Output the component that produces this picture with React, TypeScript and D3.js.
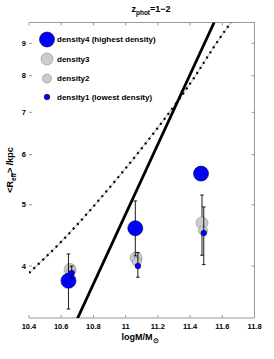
import React from "react";
import * as d3 from "d3";

// ---- data ----
const xTicks = [10.4, 10.6, 10.8, 11, 11.2, 11.4, 11.6, 11.8];
const yTicks = [4, 5, 6, 7, 8, 9];

const seriesNames = [
  "density4 (highest density)",
  "density3",
  "density2",
  "density1 (lowest density)",
];

const d4Mass = [10.645, 11.06, 11.468];
const d4R = [3.79, 4.59, 5.6];
const d4Lo = [3.42, 4.15, 5.6];
const d4Hi = [4.18, 5.07, 5.6];

const d3Mass = [10.655, 11.065, 11.474];
const d3R = [3.95, 4.12, 4.68];
const d3Lo = [3.95, 4.12, 4.16];
const d3Hi = [3.95, 4.12, 5.18];

const d2Mass = [10.66, 11.07, 11.48];
const d2R = [3.92, 4.06, 4.55];
const d2Lo = [3.92, 4.06, 4.55];
const d2Hi = [3.92, 4.06, 4.55];

const d1Mass = [10.665, 11.076, 11.485];
const d1R = [3.9, 4.0, 4.51];
const d1Lo = [3.82, 3.84, 4.02];
const d1Hi = [4.0, 4.2, 4.96];

// solid relation (straight in log space)
const solidMass = [10.7, 11.55];
const solidR = [3.3, 9.72];

// dotted relation
const dotMass = [10.4, 10.6, 10.8, 11.0, 11.2, 11.4, 11.55, 11.7];
const dotR = [3.9, 4.37, 4.97, 5.71, 6.62, 7.77, 8.9, 10.08];

// ---- layout ----
const W = 274;
const H = 359;
const L = 29;
const R = 254.5;
const T = 22.5;
const B = 318;

const FONT = "'Liberation Sans', Arial, Helvetica, sans-serif";

export default function App() {
  const x = d3.scaleLinear().domain([10.4, 11.8]).range([L, R]);
  const y = d3.scaleLog().domain([3.31, 9.71]).range([B, T]);

  const solidPath = d3
    .line<number>()
    .x((_, i) => x(solidMass[i]))
    .y((_, i) => y(solidR[i]))(solidMass) as string;

  const dotPath = d3
    .line<number>()
    .x((_, i) => x(dotMass[i]))
    .y((_, i) => y(dotR[i]))
    .curve(d3.curveNatural)(dotMass) as string;

  const series = [
    { name: seriesNames[0], m: d4Mass, r: d4R, lo: d4Lo, hi: d4Hi, rad: 7.5, fill: "#0000ff", stroke: "#000033" },
    { name: seriesNames[1], m: d3Mass, r: d3R, lo: d3Lo, hi: d3Hi, rad: 6, fill: "#cccccc", stroke: "#888888" },
    { name: seriesNames[2], m: d2Mass, r: d2R, lo: d2Lo, hi: d2Hi, rad: 4.5, fill: "#cccccc", stroke: "#888888" },
    { name: seriesNames[3], m: d1Mass, r: d1R, lo: d1Lo, hi: d1Hi, rad: 2.8, fill: "#0000ff", stroke: "#000033" },
  ];
  const drawOrder = [1, 2, 0, 3];

  const legendY = [39.5, 59, 78.5, 97];

  return (
    <svg
      width={W}
      height={H}
      style={{ position: "absolute", left: 0, top: 0, background: "#fff" }}
      fontFamily={FONT}
      fontWeight="bold"
    >
      <defs>
        <clipPath id="plot">
          <rect x={L} y={T} width={R - L} height={B - T} />
        </clipPath>
      </defs>

      {/* frame (no left spine) */}
      <line x1={L} x2={R} y1={T} y2={T} stroke="#999" strokeWidth={1} />
      <line x1={L} x2={R} y1={B} y2={B} stroke="#999" strokeWidth={1} />
      <line x1={R} x2={R} y1={T} y2={B} stroke="#999" strokeWidth={1} />

      {/* x ticks */}
      {xTicks.map((t) => (
        <g key={"x" + t}>
          <line x1={x(t)} x2={x(t)} y1={T} y2={T + 3} stroke="#999" />
          <line x1={x(t)} x2={x(t)} y1={B} y2={B - 3} stroke="#999" />
          <text x={x(t)} y={B + 11} fontSize={7.5} textAnchor="middle" fill="#000">
            {String(t)}
          </text>
        </g>
      ))}

      {/* y ticks */}
      {yTicks.map((t) => (
        <g key={"y" + t}>
          <line x1={L} x2={L + 3} y1={y(t)} y2={y(t)} stroke="#999" />
          <line x1={R} x2={R - 3} y1={y(t)} y2={y(t)} stroke="#999" />
          <text x={L - 3} y={y(t) + 2.7} fontSize={7.5} textAnchor="end" fill="#000">
            {t}
          </text>
        </g>
      ))}

      <g clipPath="url(#plot)">
        {/* dotted relation */}
        <path d={dotPath} fill="none" stroke="#c8c8c8" strokeWidth={1.2} />
        <path d={dotPath} fill="none" stroke="#000" strokeWidth={2.2} strokeDasharray="2 4.2" />
        {/* solid relation */}
        <path d={solidPath} fill="none" stroke="#000" strokeWidth={2.8} />

        {drawOrder.map((si) => {
          const s = series[si];
          return (
            <g key={s.name}>
              {s.m.map((mv, i) => {
                const cx = x(mv);
                const has = s.hi[i] !== s.lo[i];
                return (
                  <g key={i}>
                    {has && (
                      <g stroke="#000" strokeWidth={0.9}>
                        <line x1={cx} x2={cx} y1={y(s.lo[i])} y2={y(s.hi[i])} />
                        <line x1={cx - 1.8} x2={cx + 1.8} y1={y(s.lo[i])} y2={y(s.lo[i])} />
                        <line x1={cx - 1.8} x2={cx + 1.8} y1={y(s.hi[i])} y2={y(s.hi[i])} />
                      </g>
                    )}
                    <circle cx={cx} cy={y(s.r[i])} r={s.rad} fill={s.fill} stroke={s.stroke} strokeWidth={0.6} />
                  </g>
                );
              })}
            </g>
          );
        })}
      </g>

      {/* legend */}
      {series.map((s, i) => (
        <g key={"lg" + i}>
          <circle cx={47} cy={legendY[i]} r={s.rad} fill={s.fill} stroke={s.stroke} strokeWidth={0.6} />
          <text x={57} y={legendY[i] + 2.8} fontSize={8} fill="#000">
            {s.name}
          </text>
        </g>
      ))}

      {/* title */}
      <text x={151} y={12} fontSize={9} textAnchor="middle" fill="#000">
        z
        <tspan fontSize={6.5} dy={3}>phot</tspan>
        <tspan dy={-3}>=1−2</tspan>
      </text>

      {/* x label */}
      <text x={140} y={340} fontSize={9} textAnchor="middle" fill="#000">
        logM/M
        <tspan fontSize={6.5} dy={3}>⊙</tspan>
      </text>

      {/* y label */}
      <text transform={`translate(13,170) rotate(-90)`} fontSize={9} textAnchor="middle" fill="#000">
        {"<R"}
        <tspan fontSize={6.5} dy={3}>eff</tspan>
        <tspan dy={-3}>{"> /kpc"}</tspan>
      </text>
    </svg>
  );
}
